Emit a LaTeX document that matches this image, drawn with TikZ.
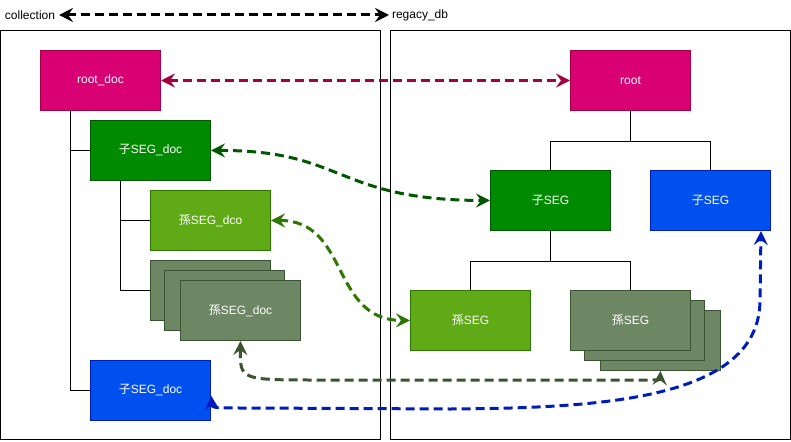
\documentclass[tikz,border=0pt]{standalone}
\usepackage{fontspec}
\setmainfont{Liberation Sans}
\newfontfamily\cjk{Noto Sans CJK JP}
\usepackage{tikz}
\usetikzlibrary{arrows.meta,positioning}
\definecolor{RootPink}{HTML}{D80073}
\definecolor{RootLine}{HTML}{A50040}
\definecolor{ChildGreen}{HTML}{008A00}
\definecolor{ChildGreenLine}{HTML}{005700}
\definecolor{SonGreen}{HTML}{60A917}
\definecolor{SonGreenLine}{HTML}{2D7600}
\definecolor{SonGray}{HTML}{6D8764}
\definecolor{SonGrayLine}{HTML}{3A5431}
\definecolor{ChildBlue}{HTML}{0050EF}
\definecolor{ChildBlueLine}{HTML}{001DBC}

\begin{document}
\begin{tikzpicture}[
  x=1pt,y=-1pt,
  font=\fontsize{12}{14}\selectfont,
  box/.style={draw,line width=1pt,minimum width=120pt,minimum height=60pt,text=white,anchor=north west,inner sep=0pt},
  frame/.style={draw,line width=1pt,anchor=north west,inner sep=0pt},
  tree/.style={line width=1pt},
  link/.style={{Stealth[length=14pt,width=14pt,inset=5pt]}-{Stealth[length=14pt,width=14pt,inset=5pt]},line width=3pt,dash pattern=on 9pt off 5pt}
]
\useasboundingbox (0,0) rectangle (791,441);
% containers
\node[frame,minimum width=380pt,minimum height=409pt] (left) at (0,30) {};
\node[frame,minimum width=400pt,minimum height=409pt] (right) at (390,30) {};
\node[anchor=west,inner sep=0pt,outer sep=4pt] (coll) at (1,15) {collection};
\node[anchor=west,inner sep=0pt,outer sep=3pt] (regacy) at (389,15) {regacy\_db};

% collection side
\node[box,fill=RootPink,draw=RootLine] (rootdoc) at (40,50) {root\_doc};
\node[box,fill=ChildGreen,draw=ChildGreenLine] (childdoc) at (90,120) {{\cjk 子}SEG\_doc};
\node[box,fill=SonGreen,draw=SonGreenLine] (sondco) at (150,190) {{\cjk 孫}SEG\_dco};
\node[box,fill=SonGray,draw=SonGrayLine] (sondocA) at (150,260) {};
\node[box,fill=SonGray,draw=SonGrayLine] (sondocB) at (164,270) {};
\node[box,fill=SonGray,draw=SonGrayLine] (sondocC) at (180,280) {{\cjk 孫}SEG\_doc};
\node[box,fill=ChildBlue,draw=ChildBlueLine] (childbluedoc) at (90,360) {{\cjk 子}SEG\_doc};

% regacy_db side
\node[box,fill=RootPink,draw=RootLine] (root) at (570,50) {root};
\node[box,fill=ChildGreen,draw=ChildGreenLine] (childseg) at (490,170) {{\cjk 子}SEG};
\node[box,fill=ChildBlue,draw=ChildBlueLine] (childblueseg) at (650,170) {{\cjk 子}SEG};
\node[box,fill=SonGreen,draw=SonGreenLine] (sonseg) at (410,290) {{\cjk 孫}SEG};
\node[box,fill=SonGray,draw=SonGrayLine] (sonsegC) at (600,310) {};
\node[box,fill=SonGray,draw=SonGrayLine] (sonsegB) at (584,300) {};
\node[box,fill=SonGray,draw=SonGrayLine] (sonsegA) at (570,290) {{\cjk 孫}SEG};

% tree lines
\draw[tree] ([xshift=30pt]rootdoc.south west) |- (childdoc.west);
\draw[tree] ([xshift=30pt]rootdoc.south west) |- (childbluedoc.west);
\draw[tree] ([xshift=30pt]childdoc.south west) |- (sondco.west);
\draw[tree] ([xshift=30pt]childdoc.south west) |- (sondocA.west);
\draw[tree] (root.south) -- ++(0,30) -| (childseg.north);
\draw[tree] (root.south) -- ++(0,30) -| (childblueseg.north);
\draw[tree] (childseg.south) -- ++(0,30) -| (sonseg.north);
\draw[tree] (childseg.south) -- ++(0,30) -| (sonsegA.north);

% links
\draw[link] (coll) -- (regacy);
\draw[link,draw=RootLine] (rootdoc.east) -- (root.west);
\draw[link,draw=ChildGreenLine] (childdoc.east) .. controls (345,150) and (335,200) .. (childseg.west);
\draw[link,draw=SonGreenLine] (sondco.east) .. controls (350,220) and (330,320) .. (sonseg.west);
\draw[link,draw=SonGrayLine] (sondocC.south) .. controls (240,380) .. (320,380) -- (640,380) .. controls (660,380) .. (sonsegC.south);
\draw[link,draw=ChildBlueLine] ([yshift=-5pt]childbluedoc.east) .. controls (212,408) .. (250,408) -- (450,409) .. controls (600,408) and (760,400) .. (760,300) -- ([xshift=-10pt]childblueseg.south east);
\end{tikzpicture}
\end{document}
